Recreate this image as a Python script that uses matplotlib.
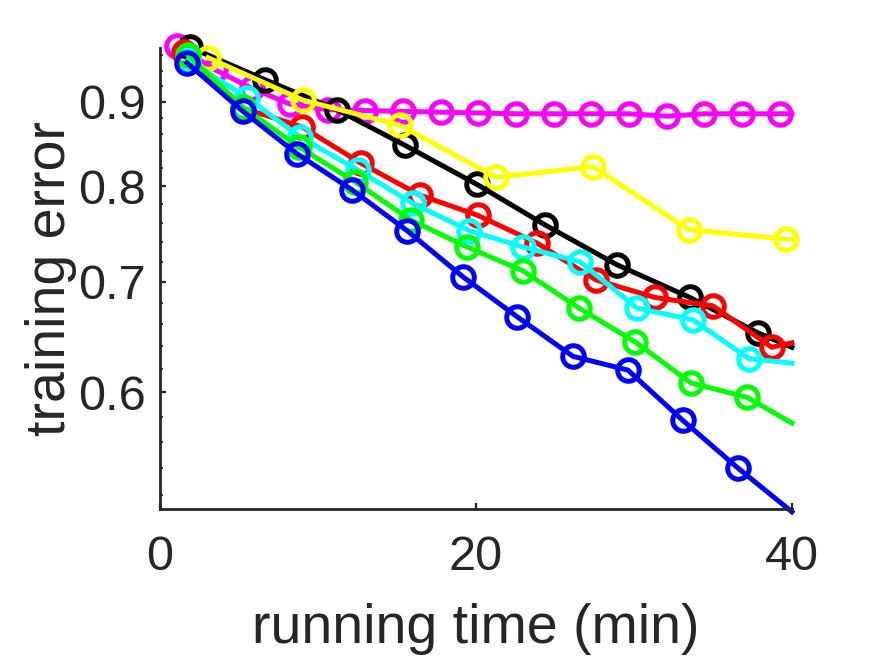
import matplotlib
matplotlib.use("Agg")
import matplotlib.pyplot as plt
from matplotlib import font_manager
from matplotlib.ticker import FixedLocator, NullFormatter, NullLocator

# series (x in minutes, y = training error)
# last point of each series is only the line end, no marker
x_magenta = [1.08, 3.48, 5.82, 8.23, 10.63, 12.97, 15.38, 17.78, 20.13, 22.53,
             24.94, 27.28, 29.68, 32.09, 34.43, 36.84, 39.24, 40.0]
y_magenta = [0.973, 0.941, 0.917, 0.897, 0.890, 0.889, 0.888, 0.887, 0.886, 0.885,
             0.885, 0.885, 0.885, 0.882, 0.885, 0.885, 0.885, 0.885]

x_black = [1.90, 6.65, 11.2, 15.5, 20.06, 24.37, 28.92, 33.54, 37.85, 40.0]
y_black = [0.971, 0.928, 0.890, 0.847, 0.802, 0.758, 0.717, 0.685, 0.652, 0.639]

x_yellow = [3.04, 9.05, 15.19, 21.27, 27.41, 33.48, 39.62, 40.0]
y_yellow = [0.957, 0.902, 0.871, 0.810, 0.822, 0.753, 0.743, 0.7425]

x_red = [1.52, 5.25, 8.99, 12.72, 16.46, 20.13, 23.86, 27.59, 31.33, 35.0, 38.73, 40.0]
y_red = [0.965, 0.892, 0.869, 0.826, 0.790, 0.768, 0.739, 0.702, 0.685, 0.677, 0.639, 0.643]

x_cyan = [1.77, 5.51, 8.86, 12.53, 16.01, 19.56, 22.97, 26.58, 30.19, 33.73, 37.28, 40.0]
y_cyan = [0.954, 0.905, 0.857, 0.818, 0.781, 0.752, 0.735, 0.720, 0.675, 0.664, 0.629, 0.625]

x_green = [1.77, 5.25, 8.80, 12.34, 15.89, 19.43, 22.97, 26.52, 30.06, 33.61, 37.15, 40.0]
y_green = [0.961, 0.893, 0.845, 0.805, 0.763, 0.735, 0.711, 0.675, 0.644, 0.608, 0.596, 0.575]

x_blue = [1.71, 5.25, 8.67, 12.15, 15.63, 19.18, 22.59, 26.14, 29.62, 33.1, 36.58, 40.0]
y_blue = [0.950, 0.888, 0.837, 0.796, 0.752, 0.705, 0.667, 0.631, 0.619, 0.577, 0.540, 0.508]

xticks = [0, 20, 40]
yticks = [0.6, 0.7, 0.8, 0.9]
ytick_labels = ["0.6", "0.7", "0.8", "0.9"]
yminor = [0.52, 0.54, 0.56, 0.58, 0.62, 0.64, 0.66, 0.68, 0.72, 0.74, 0.76, 0.78,
          0.82, 0.84, 0.86, 0.88, 0.92, 0.94, 0.96]

names = {f.name for f in font_manager.fontManager.ttflist}
fam = "Liberation Sans" if "Liberation Sans" in names else "DejaVu Sans"
plt.rcParams["font.family"] = [fam, "DejaVu Sans"]

txt = "#262626"
fig = plt.figure(figsize=(8.75, 6.56), dpi=100)
ax = fig.add_axes([0.1829, 0.2241, 0.7221, 0.7027])

series = [
    (x_magenta, y_magenta, "#ff00ff"),
    (x_black, y_black, "#000000"),
    (x_yellow, y_yellow, "#ffff00"),
    (x_red, y_red, "#ff0000"),
    (x_cyan, y_cyan, "#00ffff"),
    (x_green, y_green, "#00ff00"),
    (x_blue, y_blue, "#0000ff"),
]
for xs, ys, c in series:
    ax.plot(xs, ys, color=c, lw=3.6, marker="o", markersize=15.5,
            markerfacecolor="none", markeredgewidth=3.6,
            markevery=slice(0, len(xs) - 1), clip_on=False)

ax.set_yscale("log")
ax.set_xlim(0, 40)
ax.set_ylim(0.51, 0.97)
ax.xaxis.set_major_locator(FixedLocator(xticks))
ax.xaxis.set_minor_locator(NullLocator())
ax.yaxis.set_major_locator(FixedLocator(yticks))
ax.set_yticklabels(ytick_labels)
ax.yaxis.set_minor_locator(FixedLocator(yminor))
ax.yaxis.set_minor_formatter(NullFormatter())

for s in ["top", "right"]:
    ax.spines[s].set_visible(False)
for s in ["left", "bottom"]:
    ax.spines[s].set_linewidth(2.0)
    ax.spines[s].set_color(txt)

ax.tick_params(which="major", direction="in", length=4, width=1.6, colors=txt,
               labelsize=35)
ax.tick_params(which="minor", direction="in", length=2.5, width=1.3, colors=txt)
ax.tick_params(axis="x", pad=19)
ax.tick_params(axis="y", pad=10)

ax.set_xlabel("running time (min)", fontsize=40, color=txt, labelpad=16)
ax.set_ylabel("training error", fontsize=40, color=txt, labelpad=1)

fig.savefig("out.png", dpi=100)
